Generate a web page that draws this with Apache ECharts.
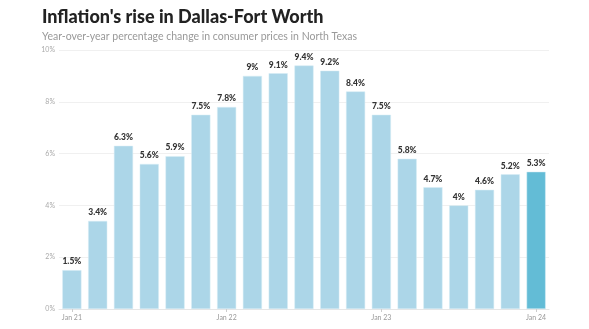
<!DOCTYPE html>
<html><head><meta charset="utf-8">
<script src="https://cdn.jsdelivr.net/npm/echarts@6/dist/echarts.min.js"></script>
<style>html,body{margin:0;padding:0;background:#fff}#c{width:589px;height:329px}</style>
</head><body><div id="c"></div>
<script>
const categories = ["Jan 21","Mar 21","May 21","Jul 21","Sep 21","Nov 21","Jan 22","Mar 22","May 22","Jul 22","Sep 22","Nov 22","Jan 23","Mar 23","May 23","Jul 23","Sep 23","Nov 23","Jan 24"];
const values = [1.5,3.4,6.3,5.6,5.9,7.5,7.8,9,9.1,9.4,9.2,8.4,7.5,5.8,4.7,4,4.6,5.2,5.3];
const shownLabels = ["Jan 21","Jan 22","Jan 23","Jan 24"];
const yTicks = [0,2,4,6,8,10];

const chart = echarts.init(document.getElementById('c'));
chart.setOption({
  animation:false,
  title:{
    text:"Inflation's rise in Dallas-Fort Worth",
    subtext:"Year-over-year percentage change in consumer prices in North Texas",
    left:37, top:3, itemGap:5,
    textStyle:{fontFamily:'Lato',fontWeight:900,fontSize:18,color:'#222'},
    subtextStyle:{fontFamily:'Lato',fontSize:10.5,color:'#999'}
  },
  grid:{left:59,right:40,top:50,bottom:20,containLabel:false},
  xAxis:{
    type:'category', data:categories,
    axisLine:{lineStyle:{color:'#e6e6e6'}},
    axisTick:{show:true,alignWithLabel:true,length:3,lineStyle:{color:'#ccc'},
      interval:(i,v)=>shownLabels.includes(v)},
    axisLabel:{interval:(i,v)=>shownLabels.includes(v),color:'#999',fontSize:7,fontFamily:'Lato',margin:5}
  },
  yAxis:{
    type:'value', min:0, max:10, interval:2,
    axisLabel:{formatter:v=>v+'%',color:'#aaa',fontSize:7,fontFamily:'Lato',margin:4},
    splitLine:{lineStyle:{color:'#f0f0f0'}},
    axisLine:{show:false},axisTick:{show:false}
  },
  series:[{
    type:'bar',
    data:values.map((v,i)=>({value:v,itemStyle:{color:i===values.length-1?'#63bcd6':'#acd6e8'}})),
    barCategoryGap:'26%',
    itemStyle:{borderColor:'#d6ecf5',borderWidth:0.5},
    label:{show:true,position:'top',formatter:p=>p.value+'%',color:'#333',fontWeight:900,fontSize:8.5,fontFamily:'Lato',distance:4}
  }]
});
</script></body></html>
